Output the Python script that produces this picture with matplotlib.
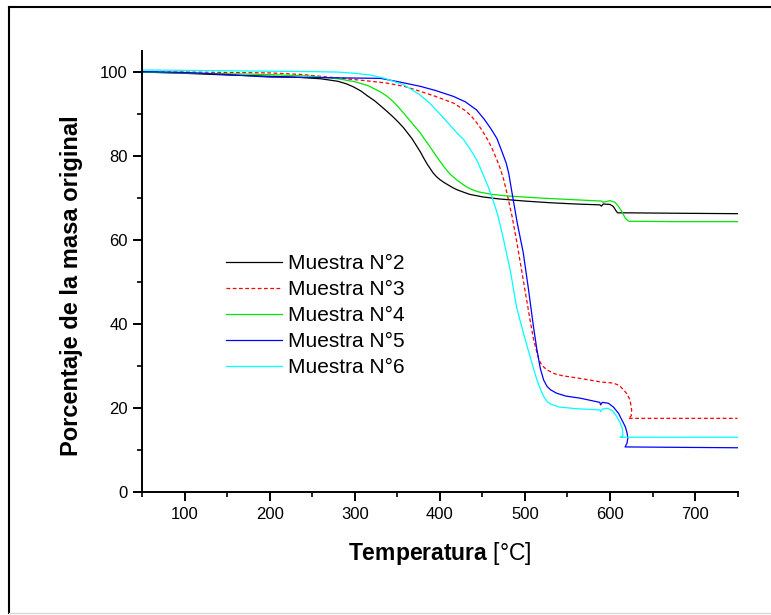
import matplotlib
matplotlib.use("Agg")
import matplotlib.pyplot as plt
from matplotlib.lines import Line2D
from matplotlib.ticker import MultipleLocator

plt.rcParams['font.family'] = ['Liberation Sans', 'DejaVu Sans']
plt.rcParams['mathtext.fontset'] = 'custom'
plt.rcParams['mathtext.rm'] = 'Liberation Sans'
plt.rcParams['mathtext.bf'] = 'Liberation Sans:bold'

# Muestra N°2 (black)
temp_n2 = [50, 100, 150, 200, 230, 260, 280, 290, 298, 307, 315, 323, 330, 338, 345, 351,
           357, 362, 367, 372, 377, 381, 385, 389, 392, 396, 400, 405, 410, 415, 420, 428,
           435, 450, 470, 500, 530, 560, 588, 590, 592, 600, 604, 607, 609, 620, 680, 750]
mass_n2 = [100.0, 99.7, 99.3, 99.0, 98.8, 98.4, 97.8, 97.2, 96.5, 95.5, 94.3, 93.2, 92.0,
           90.6, 89.3, 88.1, 86.8, 85.5, 84.2, 82.6, 81.0, 79.5, 78.1, 76.9, 76.0, 75.1,
           74.4, 73.7, 73.1, 72.5, 72.0, 71.4, 70.9, 70.3, 69.8, 69.3, 68.9, 68.6, 68.4,
           68.1, 68.6, 68.5, 68.0, 67.0, 66.5, 66.5, 66.4, 66.3]

# Muestra N°3 (red dashed)
temp_n3 = [50, 100, 150, 200, 239, 279, 310, 337, 360, 377, 395, 416, 430, 437, 443, 448,
           452, 457, 462, 467, 471, 475, 479, 485, 490, 498, 506, 510, 514, 517, 520, 526,
           535, 545, 565, 588, 592, 604, 611, 616, 620, 623.5, 625.5, 625, 621.5, 680, 750]
mass_n3 = [100.0, 100.0, 99.9, 99.8, 99.4, 98.6, 98.0, 97.4, 96.5, 95.4, 94.2, 92.6, 90.8,
           89.5, 88.0, 86.6, 85.3, 83.6, 81.5, 79.1, 77.0, 74.4, 71.0, 65.5, 60.0, 50.5,
           41.0, 36.5, 33.3, 31.3, 30.2, 29.1, 28.2, 27.7, 27.1, 26.3, 26.2, 26.0, 25.4,
           24.4, 23.4, 22.0, 19.6, 18.2, 17.6, 17.6, 17.6]

# Muestra N°4 (green)
temp_n4 = [50, 100, 150, 200, 250, 280, 300, 315, 330, 338, 345, 351, 357, 362, 367, 372,
           377, 382, 387, 392, 396, 401, 405, 409, 412, 416, 420, 426, 432, 438, 445, 461,
           480, 520, 560, 590, 592, 600, 606, 610, 614, 618, 622, 680, 750]
mass_n4 = [100.0, 99.8, 99.6, 99.4, 99.0, 98.4, 97.7, 96.8, 95.3, 94.2, 93.0, 91.7, 90.3,
           89.1, 87.9, 86.7, 85.5, 84.0, 82.6, 81.1, 79.9, 78.5, 77.4, 76.4, 75.7, 75.0,
           74.3, 73.4, 72.6, 72.0, 71.5, 70.9, 70.5, 70.0, 69.6, 69.3, 69.0, 69.4, 69.0,
           68.0, 66.8, 65.2, 64.5, 64.4, 64.4]

# Muestra N°5 (blue)
temp_n5 = [50, 100, 150, 200, 250, 290, 330, 351, 377, 395, 416, 430, 443, 452, 460, 467,
           474, 478, 481, 485, 491, 498, 504, 510, 514, 518, 522, 526, 530, 537, 548, 565,
           588, 589, 591, 598, 604, 610, 614, 618, 620, 621, 620, 617.7, 680, 750]
mass_n5 = [100.1, 99.9, 99.4, 98.8, 98.7, 98.6, 98.5, 97.7, 96.6, 95.6, 94.2, 92.9, 91.0,
           88.8, 86.5, 84.2, 80.5, 78.3, 75.8, 71.0, 64.0, 57.0, 48.5, 39.4, 34.0, 29.5,
           26.7, 25.2, 24.4, 23.6, 22.9, 22.4, 21.4, 20.8, 21.4, 21.2, 20.3, 18.8, 17.2,
           15.6, 14.2, 12.9, 11.7, 10.8, 10.7, 10.6]

# Muestra N°6 (cyan)
temp_n6 = [50, 100, 150, 200, 250, 280, 300, 318, 335, 357, 375, 388, 400, 410, 420, 428,
           436, 444, 451, 457, 461, 468, 475, 483, 490, 498, 506, 511, 514, 518, 522, 526,
           530, 540, 560, 588, 589, 591, 597, 603, 608, 612, 614.5, 615.3, 614, 612, 680, 750]
mass_n6 = [100.5, 100.4, 100.3, 100.2, 100.1, 100.0, 99.7, 99.3, 98.5, 97.0, 94.8, 92.6,
           90.0, 87.8, 85.5, 83.9, 81.5, 78.8, 75.5, 72.6, 70.4, 66.0, 60.0, 52.5, 44.2,
           38.0, 32.3, 28.8, 26.8, 24.6, 22.8, 21.6, 21.0, 20.3, 19.9, 19.6, 19.2, 19.8,
           20.0, 19.4, 18.0, 16.5, 15.2, 13.6, 13.2, 13.1, 13.1, 13.1]

labels = ['Muestra N°2', 'Muestra N°3', 'Muestra N°4', 'Muestra N°5', 'Muestra N°6']

fig = plt.figure(figsize=(7.71, 6.15), dpi=100)
ax = fig.add_axes([0.1846, 0.1995, 0.772, 0.7175])

ax.plot(temp_n2, mass_n2, color='black', lw=0.9, label=labels[0])
ax.plot(temp_n3, mass_n3, color='#ff0000', lw=0.9, ls=(0, (3, 2)), label=labels[1])
ax.plot(temp_n4, mass_n4, color='#00e800', lw=0.9, label=labels[2])
ax.plot(temp_n5, mass_n5, color='#0000ff', lw=0.9, label=labels[3])
ax.plot(temp_n6, mass_n6, color='#00ffff', lw=0.9, label=labels[4])

ax.set_xlim(50, 750)
ax.set_ylim(0, 105)
ax.xaxis.set_major_locator(MultipleLocator(100))
ax.xaxis.set_minor_locator(MultipleLocator(50))
ax.yaxis.set_major_locator(MultipleLocator(20))
ax.yaxis.set_minor_locator(MultipleLocator(10))
ax.set_xticks([100, 200, 300, 400, 500, 600, 700])

for s in ['top', 'right']:
    ax.spines[s].set_visible(False)
for s in ['left', 'bottom']:
    ax.spines[s].set_linewidth(1.4)
ax.tick_params(which='major', direction='out', length=6.5, width=1.4, labelsize=12, pad=4)
ax.tick_params(which='minor', direction='out', length=3.6, width=1.2)

ax.set_ylabel('Porcentaje de la masa original', fontsize=17, fontweight='bold')
ax.yaxis.set_label_coords(-0.1, 0.468)
ax.set_xlabel(r'$\mathbf{Temperatura}$ [°C]', fontsize=16.5)
ax.xaxis.set_label_coords(0.5, -0.108)

ax.legend(loc='upper left', bbox_to_anchor=(226 / 771, 1 - 254 / 615),
          bbox_transform=fig.transFigure, frameon=False, fontsize=15,
          handlelength=2.7, handletextpad=0.29, labelspacing=0.34,
          borderpad=0, borderaxespad=0)

# outer frame
fig.add_artist(Line2D([9 / 771, 9 / 771], [2 / 615, 1 - 7 / 615], color='black', lw=1.5,
                      transform=fig.transFigure))
fig.add_artist(Line2D([9 / 771, 1.0], [1 - 7 / 615, 1 - 7 / 615], color='black', lw=1.5,
                      transform=fig.transFigure))
fig.add_artist(Line2D([9 / 771, 1.0], [2 / 615, 2 / 615], color='#d8d8d8', lw=1.0,
                      transform=fig.transFigure))

fig.savefig('out.png', dpi=100)
